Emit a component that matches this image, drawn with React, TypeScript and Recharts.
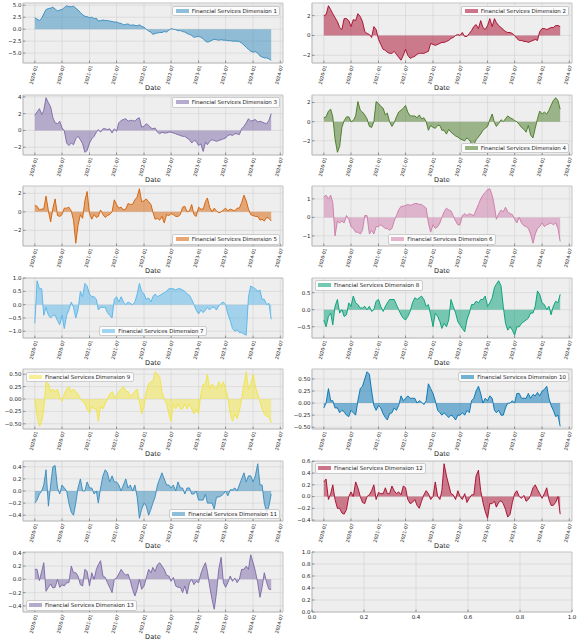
import React from 'react';
import { AreaChart, Area, LineChart, XAxis, YAxis, CartesianGrid, ReferenceArea } from 'recharts';

const FONT = '"DejaVu Sans", Verdana, sans-serif';

// semi-monthly sample dates: 1st and 16th of each month, 2020-01-01 .. 2024-05-01
const DATES: number[] = [];
for (let i = 0; i < 105; i++) {
  DATES.push(Date.UTC(2020, Math.floor(i / 2), i % 2 ? 16 : 1));
}

const X_TICKS: number[] = [];
for (let y = 2020; y <= 2024; y++) {
  X_TICKS.push(Date.UTC(y, 0, 1), Date.UTC(y, 6, 1));
}

const dim1 = [
  2.4, 2.1, 1.8, 2.3, 3.2, 4.1, 4.3, 4.4, 4.6, 4.2, 3.8, 4.0,
  4.1, 4.5, 4.9, 4.7, 4.7, 4.8, 4.4, 4.0, 3.5, 3.0, 2.7, 2.6,
  2.4, 2.5, 2.2, 2.3, 1.7, 1.8, 1.9, 1.8, 1.8, 1.7, 1.6, 1.5,
  1.5, 1.3, 1.2, 0.9, 1.0, 1.1, 0.8, 0.9, 0.8, 0.7, 0.9, 0.6,
  0.4, 0.0, -0.4, -0.6, -1.1, -0.9, -0.8, -0.7, -0.7, -0.5, -0.6, -0.2,
  0.1, 0.0, -0.1, -0.3, -0.3, -0.5, -0.6, -0.9, -1.1, -1.3, -1.7, -1.6,
  -1.5, -1.7, -2.0, -2.5, -2.7, -2.6, -2.3, -2.1, -2.2, -2.3, -2.2, -2.3,
  -2.3, -2.4, -2.4, -2.5, -2.5, -2.5, -2.6, -2.9, -3.3, -3.8, -4.2, -4.6,
  -4.8, -4.7, -5.0, -5.6, -5.8, -6.0, -6.0, -6.2, -6.5,
];

const dim2 = [
  2.0, 2.1, 3.0, 2.6, 2.2, 1.8, 1.4, 0.8, 0.6, 1.7, 1.7, 1.5,
  0.9, 1.6, 1.5, 2.2, 1.9, 1.4, 0.4, 0.2, 0.1, -0.2, 0.9, 0.6,
  -0.4, -0.9, -1.4, -1.5, -1.7, -1.8, -1.8, -1.6, -1.9, -2.2, -2.5, -2.0,
  -1.4, -2.0, -2.3, -2.2, -2.1, -1.9, -1.8, -1.8, -1.8, -1.7, -1.6, -0.8,
  -0.9, -1.0, -0.9, -0.8, -0.7, -0.7, -0.6, -0.5, -0.3, -0.2, 0.0, 0.1,
  0.0, 0.3, -0.1, -0.1, 0.2, 0.5, 0.9, 1.1, 0.7, 1.5, 0.8, 0.6,
  1.0, 1.7, 0.9, 1.7, 1.3, 1.0, 0.8, 0.6, 0.4, 0.3, 0.3, 0.2,
  0.0, -0.3, -0.5, -0.5, -0.6, -0.6, -0.7, -0.6, -0.5, -0.4, -0.5, 0.4,
  0.7, 0.7, 0.6, 0.7, 0.8, 0.8, 1.0, 1.0, 0.9,
];

const dim3 = [
  1.8, 2.2, 2.6, 1.9, 2.4, 3.9, 3.3, 2.8, 1.5, 0.9, 0.8, 1.1,
  0.3, 0.0, -1.5, -1.8, -1.5, -1.7, -1.0, -0.7, -1.1, -1.6, -2.6, -2.4,
  -1.5, -1.0, -0.7, -0.2, 0.1, -0.2, 0.2, 0.2, 0.1, 0.2, -0.3, 0.2,
  -0.1, 0.9, 1.2, 1.3, 1.4, 1.1, 1.2, 1.2, 1.1, 1.4, 1.5, 0.4,
  0.5, 0.8, 0.6, 0.3, 0.2, 0.3, -0.2, -0.4, -0.2, -0.3, -0.3, -0.2,
  -0.2, -0.3, -0.4, -0.5, -0.6, -0.7, -0.7, -0.9, -1.1, -1.5, -1.2, -1.3,
  -1.8, -1.6, -2.5, -1.4, -1.7, -1.3, -1.1, -1.2, -1.3, -1.2, -1.1, -1.0,
  -0.9, -0.6, -0.5, -0.6, -0.4, -0.4, -0.5, 0.2, 0.5, 0.9, 1.4, 1.1,
  1.2, 1.3, 1.0, 1.1, 1.0, 0.9, 0.8, 1.2, 2.0,
];

const dim4 = [
  0.4, 0.5, 1.1, 1.3, 0.5, -1.8, -3.2, -2.6, -0.6, 0.1, 0.5, 0.5,
  0.0, 0.1, 0.6, 2.1, 1.2, 1.0, 0.7, 0.3, -0.5, -0.6, 0.0, 2.1,
  1.9, 1.6, 1.4, 0.7, 0.9, 0.0, -0.5, -0.1, 0.5, 1.0, 1.2, 1.4,
  1.7, 1.0, 0.6, 0.6, 0.6, 0.4, 0.7, 0.3, 0.4, 0.0, -0.9, -0.4,
  -0.6, -0.7, -0.4, -0.4, -0.9, -0.9, -1.3, -0.8, -1.1, -1.3, -1.5, -1.6,
  -1.8, -1.9, -2.0, -1.7, -1.9, -2.3, -2.4, -1.9, -1.6, -1.3, -0.9, -0.7,
  -0.5, 0.2, 0.8, -0.1, -0.5, -0.2, 0.2, 0.0, 0.3, 0.6, 0.4, 0.3,
  0.1, 0.0, -0.3, -0.6, -0.8, -1.1, -0.4, -1.4, -1.7, -0.7, 0.3, 1.1,
  0.8, 1.0, 0.8, 1.2, 1.7, 2.2, 2.5, 2.2, 1.3,
];

const dim5 = [
  0.7, 0.6, 0.2, 0.3, 0.3, 1.7, 0.1, -1.1, 0.4, 1.4, -0.4, -0.5,
  -0.3, 0.4, 0.4, 0.5, 0.1, -0.9, -3.4, -1.5, -0.3, -0.7, 1.2, 2.2,
  -0.2, -0.8, -0.3, -0.6, -0.5, 0.2, -0.3, -0.6, -0.4, -0.3, 0.0, 1.3,
  0.8, 0.4, 0.5, 0.2, 0.3, 0.9, 0.8, 0.8, 1.3, 1.6, 2.5, 1.1,
  1.2, 1.4, 1.1, 0.8, 0.0, -0.8, -0.7, -0.9, -0.5, -1.2, -0.3, -0.4,
  -0.2, -0.3, -0.5, -0.5, -0.3, 0.5, 0.6, 0.0, 0.1, 0.8, -0.3, -0.5,
  0.5, 0.3, 0.3, 1.1, 1.5, 0.5, 0.0, 0.4, 0.1, -0.1, 0.0, 0.2,
  0.4, 0.1, 0.3, 0.2, 0.1, 0.4, 0.4, 1.0, 1.8, 1.2, 0.3, -0.3,
  -0.4, -0.5, -0.5, -0.9, -0.8, -1.0, -0.6, -0.7, -1.0,
];

const dim6 = [
  1.1, 1.2, 1.0, 1.2, 0.8, -1.0, -0.2, -0.3, -0.2, -0.3, 0.1, -0.1,
  -0.5, -0.6, -0.8, -0.8, -0.9, -0.7, 0.1, 0.1, -0.9, -0.7, -0.9, -0.5,
  -0.5, -0.4, -0.5, -0.6, -0.6, -0.7, -0.6, -0.2, 0.1, 0.4, 0.6, 0.6,
  0.65, 0.7, 0.65, 0.7, 0.75, 0.75, 0.7, 0.7, 0.6, 0.5, -0.3, -0.8,
  -0.4, -0.6, -0.5, -0.3, 0.0, 0.3, 0.5, 0.4, 0.35, 0.1, -0.2, -0.4,
  -0.4, 0.1, 0.2, 0.1, 0.2, 0.15, 0.1, 0.4, 0.7, 1.0, 1.2, 1.35,
  1.5, 1.55, 1.2, 0.6, -0.1, 0.2, 0.4, 0.3, 0.55, 0.3, 0.2, 0.15,
  -0.1, -0.3, 0.0, -0.3, -0.45, -0.5, -0.6, -0.9, -1.4, -0.9, -0.6, -0.5,
  -0.3, -0.5, -0.4, -0.35, -0.3, -0.4, -0.3, -0.6, -1.3,
];

const dim7 = [
  -0.7, 0.9, 0.6, 0.6, -0.4, -0.1, -0.4, -0.5, -0.4, -0.4, -0.6, -0.75,
  -0.4, -0.9, -0.4, -0.2, 0.1, -0.1, -0.5, -0.2, 0.5, 0.3, 0.8, 0.7,
  0.4, 0.3, 0.3, 0.2, -0.2, -0.1, -0.1, -0.1, -0.3, -0.4, -0.5, 0.2,
  0.3, 0.1, 0.3, 0.1, 0.0, 0.1, 0.05, 0.0, 0.1, 0.4, 0.8, 0.5,
  0.4, 0.2, 0.25, 0.1, 0.3, 0.4, 0.3, 0.35, 0.4, 0.45, 0.5, 0.6,
  0.6, 0.6, 0.55, 0.6, 0.6, 0.55, 0.5, 0.4, 0.35, 0.2, 0.0, -0.2,
  -0.35, -0.2, -0.3, -0.2, -0.1, -0.2, -0.1, -0.1, -0.2, -0.05, 0.05, 0.1,
  0.0, -0.35, -0.6, -0.9, -1.0, -0.95, -1.05, -1.05, -1.1, -1.15, 0.3, 0.7,
  0.65, 0.6, 0.5, 0.55, 0.2, 0.2, 0.0, 0.05, -0.55,
];

const dim8 = [
  -0.3, -0.5, -0.2, -0.1, -0.45, 0.1, 0.3, -0.1, 0.0, -0.2, -0.15, 0.2,
  0.1, 0.4, 0.2, 0.15, 0.05, 0.05, 0.1, 0.0, 0.1, -0.05, 0.0, 0.25,
  0.3, 0.1, -0.05, 0.1, 0.2, 0.3, 0.3, 0.3, 0.15, 0.0, -0.15, -0.25,
  -0.3, -0.2, -0.05, 0.2, 0.35, 0.3, 0.35, 0.4, 0.3, 0.1, 0.15, -0.15,
  -0.5, -0.1, -0.2, -0.35, -0.55, -0.4, -0.5, -0.3, 0.3, 0.1, -0.1, -0.35,
  -0.45, -0.55, -0.65, -0.3, -0.1, 0.15, 0.15, 0.25, 0.2, 0.3, 0.3, 0.4,
  0.1, 0.2, 0.35, 0.65, 0.75, 0.85, 0.7, 0.1, -0.4, -0.6, -0.5, -0.6,
  -0.75, -0.5, -0.5, -0.4, -0.35, -0.3, -0.25, -0.1, -0.1, 0.1, 0.55, 0.45,
  0.2, 0.15, 0.0, 0.1, -0.15, 0.1, 0.25, 0.2, 0.45,
];

const dim9 = [
  0.0, -0.35, -0.55, -0.45, -0.2, 0.35, 0.3, 0.15, 0.2, 0.15, 0.2, 0.05,
  -0.05, 0.1, 0.2, 0.25, 0.15, 0.2, 0.15, 0.1, 0.0, -0.05, -0.1, -0.2,
  -0.28, -0.15, -0.2, -0.2, -0.45, -0.15, -0.2, -0.1, 0.0, 0.1, 0.15, 0.05,
  0.05, 0.15, 0.2, 0.25, 0.15, 0.15, 0.05, 0.1, 0.15, 0.2, -0.05, -0.3,
  -0.15, 0.15, 0.3, 0.35, 0.35, 0.55, 0.5, 0.45, 0.15, 0.0, -0.1, -0.3,
  -0.45, -0.1, -0.2, -0.1, -0.2, -0.2, -0.1, -0.2, -0.1, -0.2, -0.3, -0.2,
  -0.3, 0.1, 0.3, 0.3, 0.5, 0.2, 0.3, 0.25, 0.2, 0.35, 0.25, 0.35,
  0.2, 0.05, -0.3, -0.45, -0.3, -0.4, -0.25, 0.0, 0.3, 0.55, 0.2, 0.3,
  0.5, 0.25, 0.1, -0.05, -0.2, -0.3, -0.35, -0.35, -0.48,
];

const dim10 = [
  -0.1, 0.0, 0.3, 0.05, 0.05, -0.1, -0.1, -0.2, -0.15, -0.18, -0.25, -0.28,
  -0.15, -0.2, -0.25, 0.05, 0.3, 0.35, 0.5, 0.65, 0.6, 0.25, -0.05, -0.15,
  -0.05, -0.1, -0.22, -0.3, -0.35, -0.22, -0.2, -0.1, -0.15, -0.05, 0.15, 0.05,
  0.1, 0.15, 0.1, 0.1, 0.1, 0.0, 0.05, 0.02, -0.03, 0.05, 0.4, 0.3,
  0.2, 0.05, -0.15, -0.2, -0.25, -0.2, -0.25, -0.3, -0.25, -0.28, -0.35, -0.25,
  -0.25, -0.2, -0.25, -0.15, -0.2, 0.05, 0.1, 0.25, 0.35, 0.2, 0.0, 0.1,
  0.05, 0.15, 0.1, -0.15, -0.2, -0.15, -0.25, -0.25, -0.1, 0.0, 0.0, 0.05,
  0.0, 0.2, 0.2, 0.1, 0.1, 0.1, 0.2, 0.1, 0.18, 0.15, 0.22, 0.15,
  0.25, 0.28, 0.35, 0.1, -0.05, -0.15, -0.28, -0.25, -0.48,
];

const dim11 = [
  -0.2, -0.15, -0.05, 0.0, 0.1, 0.35, -0.25, 0.1, 0.4, 0.42, 0.05, -0.05,
  0.1, 0.05, 0.0, -0.2, -0.35, -0.4, -0.2, 0.05, 0.2, 0.0, 0.0, 0.15,
  0.05, 0.05, -0.05, 0.0, -0.2, 0.05, 0.25, 0.35, 0.3, 0.15, 0.25, 0.15,
  0.15, 0.1, 0.0, 0.1, 0.2, 0.05, 0.1, 0.0, 0.1, -0.1, -0.45, -0.3,
  -0.2, -0.25, -0.4, -0.3, -0.2, -0.1, 0.1, 0.2, 0.3, 0.2, 0.1, 0.1,
  0.05, 0.1, 0.0, 0.15, 0.05, 0.05, -0.05, 0.05, 0.05, -0.05, -0.05, 0.0,
  -0.15, -0.15, -0.15, -0.05, -0.2, -0.2, -0.2, -0.3, -0.1, -0.1, -0.08, -0.05,
  0.0, -0.08, 0.02, 0.02, 0.05, 0.0, 0.1, 0.2, 0.3, 0.15, 0.25, 0.25,
  0.15, 0.25, 0.45, 0.1, 0.1, -0.2, -0.35, -0.25, -0.05,
];

const dim12 = [
  0.25, 0.3, -0.05, 0.05, 0.2, -0.05, -0.2, -0.2, -0.28, -0.3, -0.22, 0.0,
  0.08, 0.0, 0.25, 0.15, 0.0, -0.1, -0.12, 0.0, 0.03, 0.1, 0.2, -0.05,
  0.07, 0.05, 0.05, 0.15, 0.05, 0.05, 0.18, 0.1, 0.05, 0.08, 0.03, 0.18,
  0.15, -0.05, -0.12, -0.1, -0.05, -0.15, -0.2, -0.08, 0.03, 0.1, 0.05, -0.05,
  0.0, 0.25, 0.0, -0.05, 0.1, 0.56, 0.35, 0.2, 0.05, 0.03, -0.05, 0.1,
  0.0, -0.05, 0.05, -0.1, -0.03, 0.03, 0.03, 0.35, 0.45, 0.1, -0.1, -0.25,
  -0.37, -0.12, -0.12, -0.08, -0.18, -0.1, -0.07, -0.12, -0.22, -0.35, -0.3, -0.1,
  0.05, 0.1, 0.0, -0.03, 0.02, -0.08, -0.05, 0.02, 0.15, 0.2, 0.12, 0.05,
  -0.03, 0.05, 0.15, -0.05, -0.15, -0.15, -0.1, 0.0, -0.3,
];

const dim13 = [
  0.15, 0.15, -0.02, 0.12, 0.25, -0.18, -0.12, -0.07, -0.13, -0.12, 0.0, -0.12,
  -0.08, -0.1, -0.05, -0.05, 0.2, 0.1, 0.1, 0.05, -0.08, -0.1, 0.15, 0.12,
  -0.1, 0.1, 0.0, 0.15, 0.22, 0.28, 0.05, 0.03, -0.05, -0.12, -0.2, 0.0,
  0.02, 0.08, 0.15, 0.1, 0.06, 0.08, -0.02, -0.15, -0.25, -0.15, 0.0, -0.15,
  -0.1, 0.02, 0.15, 0.1, 0.18, 0.12, 0.22, 0.25, 0.2, 0.15, 0.06, 0.05,
  -0.03, 0.03, -0.1, -0.12, -0.12, -0.2, -0.1, -0.22, -0.05, 0.0, -0.08, -0.03,
  -0.05, 0.08, 0.18, 0.25, 0.12, -0.1, -0.3, -0.45, -0.2, 0.15, 0.33, -0.05,
  -0.12, -0.05, 0.05, -0.03, 0.02, -0.05, 0.0, 0.15, 0.15, 0.2, 0.15, 0.37,
  0.25, 0.12, -0.05, -0.27, -0.12, 0.1, -0.05, -0.15, -0.15,
];

const TICKS_5 = [-5, -2.5, 0, 2.5, 5];
const TICKS_2 = [-2, 0, 2];
const TICKS_2_4 = [-2, 0, 2, 4];
const TICKS_1 = [-1, 0, 1];
const TICKS_HALF = [-1, -0.5, 0, 0.5, 1];
const TICKS_QUARTER = [-0.5, -0.25, 0, 0.25, 0.5];
const TICKS_FIFTH = [-0.4, -0.2, 0, 0.2, 0.4];
const TICKS_FIFTH_6 = [-0.4, -0.2, 0, 0.2, 0.4, 0.6];
const UNIT_TICKS = [0, 0.2, 0.4, 0.6, 0.8, 1];

type Loc = 'ur' | 'lr' | 'ul' | 'll' | 'lc';

const PANELS: { values: number[]; color: string; ticks: number[]; dec: number; loc: Loc }[] = [
  { values: dim1, color: '#348ABD', ticks: TICKS_5, dec: 1, loc: 'ur' },
  { values: dim2, color: '#A60628', ticks: TICKS_2, dec: 0, loc: 'ur' },
  { values: dim3, color: '#7A68A6', ticks: TICKS_2_4, dec: 0, loc: 'ur' },
  { values: dim4, color: '#467821', ticks: TICKS_2, dec: 0, loc: 'lr' },
  { values: dim5, color: '#D55E00', ticks: TICKS_2, dec: 0, loc: 'lr' },
  { values: dim6, color: '#CC79A7', ticks: TICKS_1, dec: 0, loc: 'lc' },
  { values: dim7, color: '#56B4E9', ticks: TICKS_HALF, dec: 1, loc: 'lc' },
  { values: dim8, color: '#009E73', ticks: TICKS_HALF, dec: 1, loc: 'ul' },
  { values: dim9, color: '#F0E442', ticks: TICKS_QUARTER, dec: 2, loc: 'ul' },
  { values: dim10, color: '#0072B2', ticks: TICKS_QUARTER, dec: 2, loc: 'ur' },
  { values: dim11, color: '#348ABD', ticks: TICKS_FIFTH, dec: 1, loc: 'lr' },
  { values: dim12, color: '#A60628', ticks: TICKS_FIFTH_6, dec: 1, loc: 'ul' },
  { values: dim13, color: '#7A68A6', ticks: TICKS_FIFTH, dec: 1, loc: 'll' },
];

const X0 = DATES[0];
const X1 = DATES[DATES.length - 1];
const X_PAD = (X1 - X0) * 0.05;
const X_DOMAIN: [number, number] = [X0 - X_PAD, X1 + X_PAD];

const CELL_W = 290;
const CHART_H = 91;
const ROW_H = 91.5;
const TOP = 3;
const AXIS_H = 28;
const PLOT_W = 260;
const PLOT_H = CHART_H - TOP - AXIS_H;
const TICK_FS = 5.5;
const DATE_FS = 4.7;

function fmt(v: number, dec: number) {
  return v.toFixed(dec).replace('-', '\u2212');
}

function dateLabel(t: number) {
  const d = new Date(t);
  return `${d.getUTCFullYear()}-${String(d.getUTCMonth() + 1).padStart(2, '0')}`;
}

const DateTick = (props: any) => {
  const { x, y, payload } = props;
  return (
    <g transform={`translate(${x},${y})`}>
      <line x1={0} x2={0} y1={0} y2={-2.5} stroke="#444" strokeWidth={0.5} />
      <text
        transform="translate(1.4,2.4) rotate(-75)"
        textAnchor="end"
        dy="0.35em"
        fontSize={DATE_FS}
        fontFamily={FONT}
        fill="#222"
      >
        {dateLabel(payload.value)}
      </text>
    </g>
  );
};

const UnitTick = (props: any) => {
  const { x, y, payload } = props;
  return (
    <g>
      <line x1={x} x2={x} y1={y - 3} y2={y - 5.5} stroke="#444" strokeWidth={0.5} />
      <text x={x} y={y} dy="0.8em" textAnchor="middle" fontSize={TICK_FS} fontFamily={FONT} fill="#222">
        {fmt(payload.value, 1)}
      </text>
    </g>
  );
};

const ValueTick = (props: any) => {
  const { x, y, payload, dec } = props;
  return (
    <g>
      <line x1={x + 1.5} x2={x + 4} y1={y} y2={y} stroke="#444" strokeWidth={0.5} />
      <text x={x} y={y} dy="0.35em" textAnchor="end" fontSize={TICK_FS} fontFamily={FONT} fill="#222">
        {fmt(payload.value, dec)}
      </text>
    </g>
  );
};

function LegendBox({ text, color, loc, plotLeft }: { text: string; color: string; loc: Loc; plotLeft: number }) {
  const pad = 2.6;
  const style: React.CSSProperties = {
    position: 'absolute',
    display: 'flex',
    alignItems: 'center',
    gap: 3,
    padding: '1.2px 2.4px',
    background: 'rgba(255,255,255,0.8)',
    border: '0.5px solid #cccccc',
    borderRadius: 2,
    fontFamily: FONT,
    fontSize: TICK_FS,
    lineHeight: '6.4px',
    color: '#222',
    whiteSpace: 'nowrap',
  };
  if (loc === 'ur' || loc === 'ul') style.top = TOP + pad;
  else style.top = TOP + PLOT_H - pad - 9.4;
  if (loc === 'ur' || loc === 'lr') style.right = CELL_W - plotLeft - PLOT_W + pad;
  else if (loc === 'lc') {
    style.left = plotLeft + PLOT_W / 2;
    style.transform = 'translateX(-50%)';
  } else style.left = plotLeft + pad;
  return (
    <div style={style}>
      <span style={{ display: 'inline-block', width: 13, height: 4, background: color, opacity: 0.55 }} />
      <span>{text}</span>
    </div>
  );
}

function Panel({ index }: { index: number }) {
  const p = PANELS[index];
  const col = index % 2;
  const row = Math.floor(index / 2);
  const plotLeft = col ? 22 : 23;
  const rows = DATES.map((t, i) => ({ t, v: p.values[i] }));
  const lo = Math.min(0, ...p.values);
  const hi = Math.max(0, ...p.values);
  const pad = (hi - lo) * 0.05;
  const yDomain: [number, number] = [lo - pad, hi + pad];
  const yTicks = p.ticks.filter((v) => v >= yDomain[0] && v <= yDomain[1]);

  return (
    <div style={{ position: 'absolute', left: col * CELL_W, top: row * ROW_H, width: CELL_W, height: CHART_H }}>
      <AreaChart
        width={CELL_W}
        height={CHART_H}
        data={rows}
        margin={{ top: TOP, right: CELL_W - plotLeft - PLOT_W, bottom: 0, left: 0 }}
      >
        <CartesianGrid stroke="#d2d2d2" strokeWidth={0.6} fill="#eeeeee" fillOpacity={1} />
        <XAxis
          dataKey="t"
          type="number"
          domain={X_DOMAIN}
          ticks={X_TICKS}
          interval={0}
          height={AXIS_H}
          tickSize={0}
          tickMargin={0}
          tickLine={false}
          axisLine={{ stroke: '#bcbcbc', strokeWidth: 0.6 }}
          tick={(tp: any) => <DateTick {...tp} />}
          label={{ value: 'Date', position: 'insideBottom', offset: 1, fontSize: 6.6, fill: '#222', fontFamily: FONT }}
        />
        <YAxis
          type="number"
          domain={yDomain}
          ticks={yTicks}
          interval={0}
          width={plotLeft}
          tickSize={0}
          tickMargin={1.5}
          tickLine={false}
          axisLine={{ stroke: '#bcbcbc', strokeWidth: 0.6 }}
          allowDataOverflow
          tick={(tp: any) => <ValueTick {...tp} dec={p.dec} />}
        />
        <Area
          dataKey="v"
          type="linear"
          baseValue={0}
          stroke={p.color}
          strokeWidth={0.9}
          fill={p.color}
          fillOpacity={0.5}
          dot={false}
          activeDot={false}
          isAnimationActive={false}
        />
        <ReferenceArea
          x1={X_DOMAIN[0]}
          x2={X_DOMAIN[1]}
          y1={yDomain[0]}
          y2={yDomain[1]}
          fill="none"
          stroke="#bcbcbc"
          strokeWidth={0.6}
        />
      </AreaChart>
      <LegendBox text={`Financial Services Dimension ${index + 1}`} color={p.color} loc={p.loc} plotLeft={plotLeft} />
    </div>
  );
}

const EMPTY_ROWS = [{ x: 0 }, { x: 1 }];

function EmptyPanel() {
  const plotLeft = 22;
  return (
    <div style={{ position: 'absolute', left: CELL_W, top: 6 * ROW_H, width: CELL_W, height: CHART_H }}>
      <LineChart
        width={CELL_W}
        height={CHART_H}
        data={EMPTY_ROWS}
        margin={{ top: TOP, right: CELL_W - plotLeft - PLOT_W, bottom: 0, left: 0 }}
      >
        <CartesianGrid stroke="#d2d2d2" strokeWidth={0.6} fill="#eeeeee" fillOpacity={1} />
        <XAxis
          dataKey="x"
          type="number"
          domain={[0, 1]}
          ticks={UNIT_TICKS}
          interval={0}
          height={AXIS_H}
          tickSize={0}
          tickMargin={3}
          tickLine={false}
          axisLine={{ stroke: '#bcbcbc', strokeWidth: 0.6 }}
          tick={(tp: any) => <UnitTick {...tp} />}
        />
        <YAxis
          type="number"
          domain={[0, 1]}
          ticks={UNIT_TICKS}
          interval={0}
          width={plotLeft}
          tickSize={0}
          tickMargin={1.5}
          tickLine={false}
          allowDataOverflow
          axisLine={{ stroke: '#bcbcbc', strokeWidth: 0.6 }}
          tick={(tp: any) => <ValueTick {...tp} dec={1} />}
        />
        <ReferenceArea x1={0} x2={1} y1={0} y2={1} fill="none" stroke="#bcbcbc" strokeWidth={0.6} />
      </LineChart>
    </div>
  );
}

export default function App() {
  return (
    <div style={{ position: 'absolute', left: 0, top: 0, width: 580, height: 643, background: '#ffffff', overflow: 'hidden' }}>
      {PANELS.map((_, i) => (
        <Panel key={i} index={i} />
      ))}
      <EmptyPanel />
    </div>
  );
}
